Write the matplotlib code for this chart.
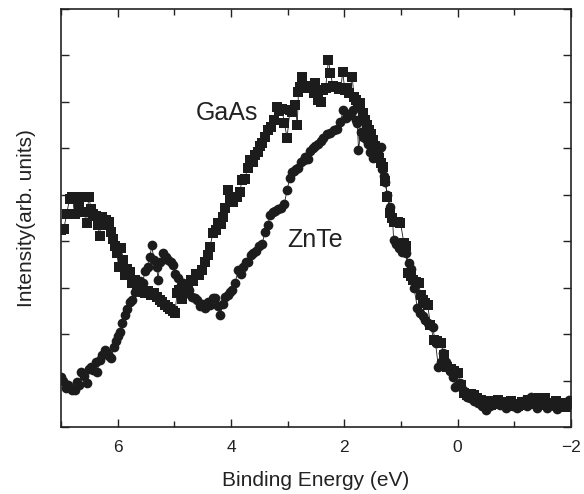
import matplotlib
matplotlib.use("Agg")
import matplotlib.pyplot as plt
from matplotlib.ticker import MultipleLocator, NullFormatter

plt.rcParams['font.family'] = ['Liberation Sans', 'DejaVu Sans']

# GaAs valence band spectrum (squares)
gaas_x = [7.00, 6.95, 6.90, 6.85, 6.80, 6.76, 6.72, 6.68, 6.64, 6.60, 6.55, 6.51, 6.47, 6.43,
          6.39, 6.35, 6.32, 6.28, 6.24, 6.20, 6.16, 6.12, 6.09, 6.05, 6.02, 5.98, 5.94, 5.90,
          5.87, 5.83, 5.79, 5.75, 5.70, 5.66, 5.61, 5.56, 5.51, 5.46, 5.41, 5.36, 5.31, 5.26,
          5.21, 5.16, 5.12, 5.07, 5.03, 4.99, 4.95, 4.91, 4.86, 4.81, 4.76, 4.71, 4.67, 4.62,
          4.57, 4.51, 4.46, 4.41, 4.37, 4.32, 4.27, 4.23, 4.18, 4.14, 4.10, 4.05, 4.01, 3.96,
          3.90, 3.84, 3.81, 3.76, 3.70, 3.67, 3.62, 3.57, 3.52, 3.48, 3.45, 3.40, 3.34, 3.30,
          3.24, 3.19, 3.15, 3.10, 3.06, 3.01, 2.96, 2.92, 2.87, 2.83, 2.81, 2.78, 2.74, 2.70,
          2.66, 2.62, 2.58, 2.54, 2.51, 2.47, 2.42, 2.38, 2.33, 2.28, 2.25, 2.20, 2.15, 2.10,
          2.06, 2.03, 1.99, 1.95, 1.91, 1.86, 1.83, 1.80, 1.76, 1.72, 1.67, 1.63, 1.60, 1.57,
          1.53, 1.50, 1.46, 1.42, 1.39, 1.36, 1.32, 1.28, 1.24, 1.19, 1.15, 1.12, 1.06, 1.01,
          0.95, 0.92, 0.88, 0.83, 0.78, 0.73, 0.69, 0.65, 0.62, 0.57, 0.53, 0.48, 0.42, 0.36,
          0.30, 0.24, 0.18, 0.12, 0.06, 0.00, -0.06, -0.11, -0.17, -0.23, -0.28, -0.34, -0.41,
          -0.47, -0.53, -0.59, -0.65, -0.71, -0.77, -0.83, -0.89, -0.95, -1.01, -1.07, -1.13,
          -1.19, -1.25, -1.31, -1.37, -1.43, -1.49, -1.55, -1.61, -1.67, -1.73, -1.79, -1.85,
          -1.91, -1.97]
gaas_y = [4.25, 4.27, 4.59, 4.91, 4.96, 4.58, 4.96, 4.75, 4.96, 4.63, 4.40, 4.96, 4.70, 4.59,
          4.55, 4.35, 4.12, 4.53, 4.35, 4.45, 4.42, 4.20, 4.05, 3.90, 3.75, 3.45, 3.86, 3.60,
          3.28, 3.40, 3.34, 3.10, 3.17, 3.05, 2.95, 2.90, 2.89, 2.92, 2.85, 2.89, 2.80, 2.74,
          2.70, 2.62, 2.59, 2.55, 2.50, 2.46, 2.89, 2.95, 2.75, 3.02, 3.00, 3.17, 3.15, 3.30,
          3.28, 3.38, 3.55, 3.70, 3.88, 4.18, 4.25, 4.40, 4.38, 4.53, 4.72, 5.11, 4.90, 4.85,
          4.95, 5.06, 5.32, 5.35, 5.58, 5.75, 5.70, 5.85, 5.93, 6.05, 6.12, 6.25, 6.40, 6.45,
          6.60, 6.88, 6.80, 6.85, 6.55, 6.23, 6.83, 6.79, 6.94, 6.51, 7.22, 7.31, 7.54, 7.30,
          7.35, 7.32, 7.30, 7.20, 7.41, 7.05, 7.00, 7.25, 7.30, 7.91, 7.63, 7.35, 7.33, 7.28,
          7.30, 7.65, 7.25, 7.30, 7.20, 7.54, 7.10, 7.05, 6.95, 6.98, 6.75, 6.62, 6.50, 6.40,
          6.30, 6.19, 6.05, 5.97, 5.80, 5.69, 5.60, 5.30, 4.96, 4.61, 4.50, 4.42, 4.42, 4.40,
          3.97, 3.90, 3.32, 3.25, 3.17, 3.12, 3.10, 2.85, 2.74, 2.68, 2.63, 2.20, 1.87, 1.85,
          1.81, 1.55, 1.29, 1.25, 1.20, 1.16, 0.90, 0.73, 0.70, 0.72, 0.69, 0.62, 0.58,
          0.50, 0.55, 0.47, 0.52, 0.58, 0.49, 0.53, 0.45, 0.55, 0.50, 0.46, 0.54,
          0.48, 0.58, 0.50, 0.55, 0.62, 0.47, 0.63, 0.52, 0.48, 0.55, 0.45, 0.52,
          0.44, 0.50]

# ZnTe valence band spectrum (circles)
znte_x = [7.00, 6.96, 6.92, 6.88, 6.84, 6.80, 6.76, 6.72, 6.68, 6.64, 6.60, 6.55, 6.51, 6.47,
          6.43, 6.39, 6.36, 6.32, 6.28, 6.23, 6.19, 6.15, 6.11, 6.07, 6.03, 5.99, 5.96, 5.92,
          5.87, 5.83, 5.79, 5.75, 5.70, 5.66, 5.61, 5.56, 5.52, 5.47, 5.43, 5.40, 5.36, 5.31,
          5.29, 5.25, 5.20, 5.15, 5.11, 5.06, 5.02, 4.98, 4.93, 4.89, 4.84, 4.78, 4.74, 4.69,
          4.64, 4.60, 4.55, 4.51, 4.46, 4.41, 4.37, 4.32, 4.28, 4.23, 4.19, 4.15, 4.11, 4.06,
          4.02, 3.98, 3.93, 3.87, 3.83, 3.79, 3.74, 3.70, 3.65, 3.61, 3.56, 3.51, 3.45, 3.40,
          3.35, 3.31, 3.26, 3.22, 3.17, 3.12, 3.06, 3.01, 2.96, 2.93, 2.89, 2.85, 2.81, 2.76,
          2.72, 2.69, 2.65, 2.61, 2.56, 2.51, 2.46, 2.42, 2.37, 2.31, 2.25, 2.19, 2.13, 2.07,
          2.02, 1.97, 1.93, 1.88, 1.84, 1.80, 1.77, 1.75, 1.71, 1.67, 1.62, 1.58, 1.54, 1.50,
          1.46, 1.41, 1.36, 1.33, 1.30, 1.28, 1.24, 1.19, 1.15, 1.13, 1.08, 1.03, 0.98, 0.92,
          0.86, 0.82, 0.77, 0.71, 0.66, 0.61, 0.57, 0.53, 0.48, 0.44, 0.39, 0.34, 0.29, 0.25,
          0.20, 0.14, 0.09, 0.04, -0.01, -0.05, -0.10, -0.16, -0.22, -0.29, -0.36, -0.43,
          -0.50, -0.57, -0.63, -0.68, -0.74, -0.80, -0.86, -0.92, -0.98, -1.04, -1.10, -1.16,
          -1.22, -1.29, -1.34, -1.40, -1.46, -1.52, -1.58, -1.64, -1.70, -1.76, -1.82, -1.88,
          -1.96]
znte_y = [1.08, 1.00, 0.84, 0.90, 0.85, 0.80, 0.80, 0.97, 0.90, 1.19, 1.10, 0.95, 1.25, 1.30,
          1.22, 1.40, 1.19, 1.44, 1.55, 1.66, 1.60, 1.52, 1.49, 1.72, 1.85, 1.95, 2.05, 2.25,
          2.41, 2.55, 2.70, 2.74, 2.91, 3.00, 3.15, 3.10, 3.35, 3.45, 3.66, 3.92, 3.60, 3.45,
          3.17, 3.55, 3.75, 3.65, 3.60, 3.55, 3.49, 3.30, 3.21, 3.05, 3.10, 2.89, 2.95, 2.80,
          2.78, 2.74, 2.60, 2.65, 2.56, 2.70, 2.62, 2.78, 2.78, 2.60, 2.41, 2.65, 2.80, 2.85,
          2.91, 2.95, 3.10, 3.38, 3.30, 3.45, 3.55, 3.56, 3.70, 3.75, 3.80, 3.90, 3.95, 4.20,
          4.35, 4.57, 4.62, 4.65, 4.70, 4.72, 4.80, 5.11, 5.37, 5.50, 5.52, 5.55, 5.58, 5.70,
          5.75, 5.82, 5.78, 5.95, 6.01, 6.05, 6.10, 6.15, 6.23, 6.30, 6.34, 6.40, 6.42, 6.57,
          6.83, 6.65, 6.70, 6.75, 6.83, 6.60, 6.55, 5.97, 6.35, 6.25, 6.20, 6.10, 5.93, 5.80,
          5.85, 5.95, 6.03, 5.55, 5.40, 5.28, 5.00, 4.74, 4.50, 4.03, 3.95, 3.85, 3.77, 3.75,
          3.53, 3.40, 3.00, 2.56, 2.45, 2.40, 2.30, 2.24, 2.20, 2.16, 1.80, 1.29, 1.40, 1.59,
          1.40, 1.20, 1.08, 0.86, 0.90, 0.95, 0.80, 0.65, 0.62, 0.55, 0.52, 0.45,
          0.37, 0.45, 0.50, 0.58, 0.48, 0.52, 0.42, 0.50, 0.45, 0.40, 0.48, 0.55,
          0.45, 0.65, 0.50, 0.42, 0.55, 0.48, 0.40, 0.52, 0.45, 0.38, 0.50, 0.45,
          0.58]

fig = plt.figure(figsize=(5.84, 4.94), dpi=100)
ax = fig.add_axes([0.1045, 0.1356, 0.8732, 0.8462])

dark = '#1c1c1c'
ax.plot(gaas_x, gaas_y, color=dark, lw=0.6, marker='s', markersize=6.5,
        markeredgewidth=0, markerfacecolor=dark)
ax.plot(znte_x, znte_y, color=dark, lw=0.6, marker='o', markersize=7.0,
        markeredgewidth=0, markerfacecolor=dark)

ax.text(4.62, 6.77, 'GaAs', fontsize=18, ha='left', va='center', color='#222222')
ax.text(3.01, 4.03, 'ZnTe', fontsize=18, ha='left', va='center', color='#222222')

ax.set_xlim(7, -2)
ax.set_ylim(0, 9)
ax.xaxis.set_major_locator(MultipleLocator(2))
ax.xaxis.set_minor_locator(MultipleLocator(1))
ax.yaxis.set_major_locator(MultipleLocator(1))
ax.yaxis.set_major_formatter(NullFormatter())

ax.tick_params(which='both', direction='in', top=True, right=True, width=1.0,
               colors='#222222', labelsize=12.5, pad=9)
ax.tick_params(which='major', length=6)
ax.tick_params(which='minor', length=4)
for s in ax.spines.values():
    s.set_linewidth(1.2)
    s.set_color('#222222')

ax.set_xlabel('Binding Energy (eV)', fontsize=15, color='#222222', labelpad=12)
ax.set_ylabel('Intensity(arb. units)', fontsize=15, color='#222222', labelpad=9)

fig.savefig('out.png', dpi=100)
